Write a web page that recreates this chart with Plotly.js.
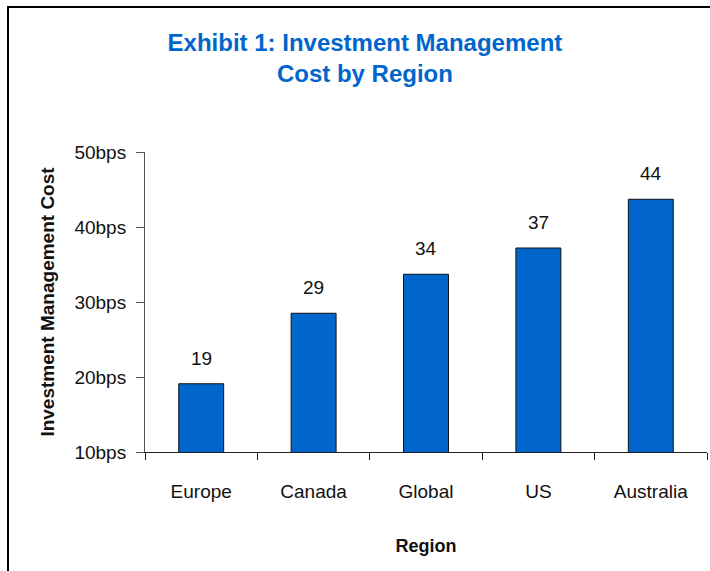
<!DOCTYPE html>
<html>
<head>
<meta charset="utf-8">
<script src="https://cdn.plot.ly/plotly-3.0.1.min.js"></script>
<style>
  body { margin: 0; overflow: hidden; background: #fff; }
  #chart { position: absolute; left: 0; top: 0; width: 710px; height: 571px; }
  #frame { position: absolute; left: 7px; top: 6px; width: 800px; height: 700px;
           border: 2px solid #000; pointer-events: none; }
</style>
</head>
<body>
<div id="chart"></div>
<div id="frame"></div>
<script>
const regions = ['Europe', 'Canada', 'Global', 'US', 'Australia'];
const costBps = [19.1, 28.5, 33.7, 37.2, 43.7];
const costLabels = ['19', '29', '34', '37', '44'];

const font = 'Arial, "Liberation Sans", sans-serif';

Plotly.newPlot('chart', [{
  type: 'bar',
  x: regions,
  y: costBps,
  width: 0.4,
  marker: { color: '#0066CC', line: { color: '#111', width: 1 } },
  hoverinfo: 'skip'
}], {
  width: 710,
  height: 571,
  margin: { l: 145, r: 3, t: 152, b: 119 },
  paper_bgcolor: '#fff',
  plot_bgcolor: '#fff',
  showlegend: false,
  title: {
    text: '<b>Exhibit 1: Investment Management<br>Cost by Region</b>',
    font: { family: font, size: 24, color: '#0066CC', lineposition: 'none' },
    xref: 'container', x: 0.514, xanchor: 'center',
    yref: 'container', y: 0.911, yanchor: 'top'
  },
  xaxis: {
    range: [-0.5, 4.5],
    showline: true, linecolor: '#222', linewidth: 1,
    ticks: 'outside', tickson: 'boundaries', ticklen: 7, tickcolor: '#222',
    ticklabelstandoff: 22,
    tickfont: { family: font, size: 19, color: '#111' },
    title: { text: '<b>Region</b>', font: { family: font, size: 18, color: '#111' }, standoff: 38 }
  },
  yaxis: {
    range: [10, 50], dtick: 10, ticksuffix: 'bps',
    showgrid: false, zeroline: false,
    showline: true, linecolor: '#555', linewidth: 1,
    ticks: 'outside', ticklen: 8, tickcolor: '#555',
    ticklabelstandoff: 6,
    tickfont: { family: font, size: 19, color: '#111' },
    title: { text: '<b>Investment Management Cost</b>', font: { family: font, size: 19, color: '#111' }, standoff: 14 }
  },
  annotations: regions.map((r, i) => ({
    x: r, y: costBps[i], text: costLabels[i],
    showarrow: false, yanchor: 'bottom', yshift: 13,
    font: { family: font, size: 19, color: '#111' }
  }))
}, { staticPlot: true });
</script>
</body>
</html>
